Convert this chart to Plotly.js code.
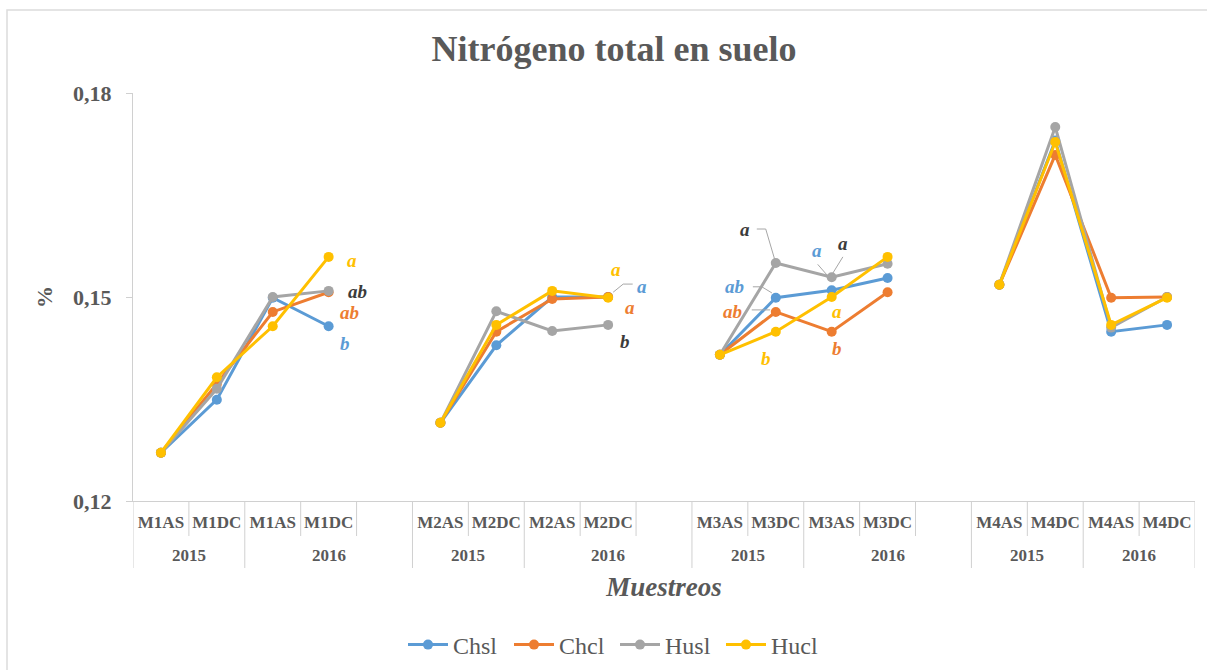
<!DOCTYPE html>
<html>
<head>
<meta charset="utf-8">
<script src="https://cdn.plot.ly/plotly-3.0.1.min.js"></script>
<style>html,body{margin:0;padding:0;background:#fff;}#chart{width:1207px;height:670px;}</style>
</head>
<body>
<div id="chart"></div>
<script>
// ---- data ----
const sampleLabels = ['M1AS','M1DC','M1AS','M1DC','M2AS','M2DC','M2AS','M2DC','M3AS','M3DC','M3AS','M3DC','M4AS','M4DC','M4AS','M4DC'];
const sampleYears  = ['2015','2015','2016','2016','2015','2015','2016','2016','2015','2015','2016','2016','2015','2015','2016','2016'];
const seriesNames = ['Chsl','Chcl','Husl','Hucl'];
const chsl = [0.1271,0.1349,0.1499,0.1457, 0.1315,0.1429,0.1500,0.1500, 0.1415,0.1499,0.1510,0.1528, 0.1518,0.1730,0.1449,0.1459];
const chcl = [0.1271,0.1372,0.1478,0.1507, 0.1315,0.1449,0.1497,0.1500, 0.1415,0.1478,0.1449,0.1507, 0.1518,0.1709,0.1499,0.1500];
const husl = [0.1271,0.1365,0.1500,0.1509, 0.1315,0.1479,0.1450,0.1459, 0.1415,0.1550,0.1529,0.1549, 0.1518,0.1750,0.1455,0.1500];
const hucl = [0.1271,0.1382,0.1457,0.1559, 0.1315,0.1459,0.1509,0.1499, 0.1415,0.1449,0.1500,0.1559, 0.1518,0.1728,0.1459,0.1499];
const seriesColors = ['#5B9BD5','#ED7D31','#A5A5A5','#FFC000'];
const yTickVals = [0.12,0.15,0.18];
const yTickText = ['0,12','0,15','0,18'];

// significance letters: [text, colour index (4 = dark), x slot, y value]
const letters = [
  ['a',3,3.42,0.1554],['ab',4,3.52,0.1508],['ab',1,3.37,0.1477],['b',0,3.29,0.1432],
  ['a',3,8.14,0.1540],['a',0,8.60,0.1515],['a',1,8.39,0.1485],['b',4,8.30,0.1434],
  ['a',4,10.45,0.1600],['ab',0,10.27,0.1515],['ab',1,10.23,0.1479],['b',3,10.82,0.1410],
  ['a',0,11.74,0.1569],['a',4,12.20,0.1579],['a',3,12.09,0.1479],['b',1,12.09,0.1425]
];
const leaders = [
  [[10.66,0.1600],[10.82,0.1600],[10.985,0.1554]],
  [[10.59,0.1515],[10.75,0.1515],[10.93,0.1506]],
  [[10.57,0.1481],[10.90,0.1481]],
  [[12.20,0.1559],[12.02,0.1535]],
  [[11.75,0.1548],[11.92,0.1532]],
  [[8.44,0.1519],[8.27,0.1519],[8.09,0.1507]]
];

// ---- build ----
const series = [chsl, chcl, husl, hucl];
const slotOf = i => i + Math.floor(i / 4);
const traces = series.map((vals, s) => {
  const x = [], y = [];
  vals.forEach((v, i) => {
    x.push(slotOf(i)); y.push(v);
    if (i % 4 === 3 && i < vals.length - 1) { x.push(slotOf(i) + 1); y.push(null); }
  });
  return {
    type: 'scatter', mode: 'lines+markers', name: seriesNames[s], x, y,
    line: {color: seriesColors[s], width: 3},
    marker: {color: seriesColors[s], size: 10},
    connectgaps: false
  };
});

const tickVals = sampleLabels.map((_, i) => slotOf(i));
const axisGrey = '#d0d0d0';
const textGrey = '#595959';
const fontSerif = '"Liberation Serif", "Times New Roman", serif';

const shapes = [];
const annotations = [];
const nGroups = sampleLabels.length / 4;
const shortY = -35 / 408, fullY = -67 / 408;
for (let g = 0; g < nGroups; g++) {
  const base = g * 5;
  const last = g === nGroups - 1;
  const full = [base - 0.5, base + 1.5];
  const short = [base + 0.5, base + 2.5];
  if (last) full.push(base + 3.5); else short.push(base + 3.5);
  full.forEach(x => shapes.push({type:'line', xref:'x', yref:'paper', x0:x, x1:x, y0:0, y1:fullY, line:{color:axisGrey, width:1}}));
  short.forEach(x => shapes.push({type:'line', xref:'x', yref:'paper', x0:x, x1:x, y0:0, y1:shortY, line:{color:axisGrey, width:1}}));
  const yr1 = sampleYears[g * 4], yr2 = sampleYears[g * 4 + 2];
  const end2 = last ? base + 3 : base + 4;
  annotations.push({xref:'x', yref:'paper', x: base + 0.5, y: -54 / 408, text: yr1, showarrow:false, yanchor:'middle',
    font:{family:fontSerif, size:17, color:textGrey, weight:'bold'}});
  annotations.push({xref:'x', yref:'paper', x: (base + 2 + end2) / 2, y: -54 / 408, text: yr2, showarrow:false, yanchor:'middle',
    font:{family:fontSerif, size:17, color:textGrey, weight:'bold'}});
}
const letterColors = seriesColors.concat(['#3b3b3b']);
letters.forEach(([t, c, x, y]) => annotations.push({
  xref:'x', yref:'y', x, y, text:'<b><i>' + t + '</i></b>', showarrow:false,
  font:{family:fontSerif, size:19, color:letterColors[c]}
}));
leaders.forEach(pts => shapes.push({
  type:'path', xref:'x', yref:'y',
  path: pts.map((p, i) => (i ? 'L' : 'M') + p[0] + ',' + p[1]).join(' '),
  line:{color:'#a6a6a6', width:1}
}));
// outer chart frame
shapes.push({type:'rect', xref:'paper', yref:'paper', x0:-126/1062, x1:1.05, y0:-0.45, y1:491/408, line:{color:'#dcdcdc', width:1.5}});

const layout = {
  width: 1207, height: 670,
  margin: {l:133, r:12, t:93, b:169, autoexpand:false},
  paper_bgcolor:'#fff', plot_bgcolor:'#fff',
  title: {text:'<b>Nitrógeno total en suelo</b>', xref:'container', x:614/1207, y:1 - 48/670, yanchor:'middle', xanchor:'center',
          font:{family:fontSerif, size:36, color:textGrey}},
  xaxis: {
    range:[-0.5, 18.5], tickvals: tickVals, ticktext: sampleLabels, ticks:'', showgrid:false, zeroline:false,
    showline:true, linecolor:axisGrey, linewidth:1, ticklabelstandoff: 6, tickangle: 0,
    tickfont:{family:fontSerif, size:17, color:textGrey, weight:'bold'},
    title:{text:'<b><i>Muestreos</i></b>', standoff: 45, font:{family:fontSerif, size:27, color:textGrey}}
  },
  yaxis: {
    range:[0.12, 0.18], tickvals:yTickVals, ticktext:yTickText, ticks:'outside', ticklen:6, tickcolor:axisGrey,
    showgrid:false, zeroline:false, showline:true, linecolor:axisGrey, linewidth:1, ticklabelstandoff: 10,
    tickfont:{family:fontSerif, size:22, color:textGrey, weight:'bold'},
    title:{text:'<b>%</b>', standoff: 14, font:{family:fontSerif, size:22, color:textGrey}}
  },
  legend: {orientation:'h', x:(403-133)/1062, xanchor:'left', y:-144/408, yanchor:'middle',
           font:{family:fontSerif, size:24, color:textGrey}, itemwidth:40, entrywidth:51},
  showlegend: true,
  shapes, annotations
};
Plotly.newPlot('chart', traces, layout, {displayModeBar:false});
</script>
</body>
</html>
